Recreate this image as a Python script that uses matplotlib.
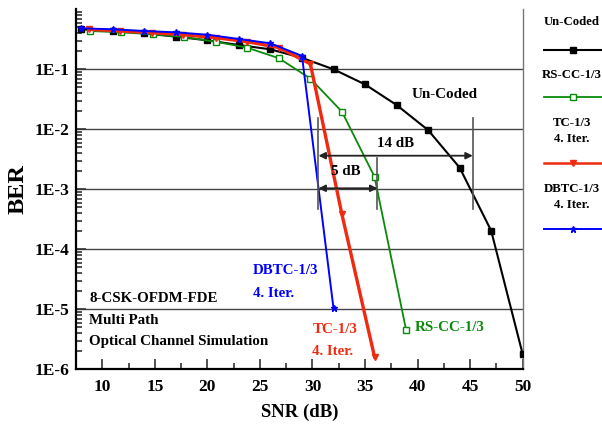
import math
import matplotlib
matplotlib.use("Agg")
import matplotlib.pyplot as plt
from matplotlib.lines import Line2D
from matplotlib.ticker import FixedLocator, FuncFormatter, LogLocator, MultipleLocator, NullFormatter

# ---- data ----
unc_snr = [8, 11, 14, 17, 20, 23, 26, 29, 32, 35, 38, 41, 44, 47, 50]
unc_ber = [0.464, 0.435, 0.398, 0.35, 0.304, 0.254, 0.215, 0.155, 0.1, 0.056, 0.0254, 0.0097, 0.0023, 2.04e-4, 1.78e-6]

rs_snr = [8.8, 11.8, 14.8, 17.8, 20.8, 23.8, 26.8, 29.8, 32.8, 35.9, 38.9]
rs_ber = [0.435, 0.413, 0.383, 0.345, 0.288, 0.229, 0.153, 0.07, 0.0197, 1.62e-3, 4.6e-6]

tc_snr = [8.7, 11.7, 14.7, 17.7, 20.8, 23.8, 26.8, 29.8, 32.8, 35.9]
tc_ber = [0.464, 0.435, 0.407, 0.377, 0.336, 0.288, 0.23, 0.123, 3.83e-4, 1.62e-6]

dbtc_snr = [8, 11, 14, 17, 20, 23, 26, 29, 32]
dbtc_ber = [0.482, 0.464, 0.435, 0.413, 0.377, 0.32, 0.271, 0.167, 1.04e-5]

series_names = ["Un-Coded", "RS-CC-1/3", "TC-1/3\n4. Iter.", "DBTC-1/3\n4. Iter."]
x_ticks = [10, 15, 20, 25, 30, 35, 40, 45, 50]
y_ticks = [1e-6, 1e-5, 1e-4, 1e-3, 1e-2, 1e-1]

# ---- style ----
FONT = "Liberation Serif"
plt.rcParams["font.family"] = [FONT, "DejaVu Serif"]
plt.rcParams["font.weight"] = "bold"

c_blk = "#000000"
c_grn = "#0a8a0a"
c_red = "#f02a10"
c_blu = "#0000ff"

styles = [
    dict(color=c_blk, lw=1.5, marker="s", ms=5, mfc=c_blk, mec=c_blk),
    dict(color=c_grn, lw=1.3, marker="s", ms=5, mfc="white", mec=c_grn, mew=1.0),
    dict(color=c_red, lw=2.4, marker="v", ms=4.5, mfc=c_red, mec=c_red),
    dict(color=c_blu, lw=1.4, marker="*", ms=5, mfc=c_blu, mec=c_blu),
]

W, H = 602, 426
fig = plt.figure(figsize=(W / 100, H / 100), dpi=100)
ax = fig.add_axes([76 / W, 1 - 369.3 / H, (522.7 - 76) / W, 360 / H])

def py(pix):
    """BER value at a given pixel row of the reference axes."""
    return 10 ** (-(pix - 9.3) / 60)

data = [(unc_snr, unc_ber), (rs_snr, rs_ber), (tc_snr, tc_ber), (dbtc_snr, dbtc_ber)]
for (xs, ys), st in zip(data, styles):
    ax.plot(xs, ys, zorder=3, **st)

ax.set_yscale("log")
ax.set_xlim(7.5, 50)
ax.set_ylim(1e-6, 1)

ax.yaxis.set_major_locator(FixedLocator(y_ticks))
ax.yaxis.set_major_formatter(FuncFormatter(lambda v, p: "1E%d" % round(math.log10(v))))
ax.yaxis.set_minor_locator(LogLocator(base=10, subs=range(2, 10)))
ax.yaxis.set_minor_formatter(NullFormatter())
ax.xaxis.set_major_locator(FixedLocator(x_ticks))
ax.xaxis.set_minor_locator(MultipleLocator(2.5))

ax.tick_params(which="both", direction="in", labelsize=12.5, width=1.2, color="#333333")
ax.tick_params(which="major", length=7)
ax.tick_params(which="minor", length=4)
ax.tick_params(axis="y", pad=5)
ax.tick_params(axis="x", pad=7)
for lab in ax.get_xticklabels() + ax.get_yticklabels():
    lab.set_fontweight("bold")

ax.grid(True, which="major", axis="y", color="#444444", lw=1.0, zorder=0)
ax.spines["top"].set_visible(False)
ax.spines["left"].set_linewidth(1.6)
ax.spines["bottom"].set_linewidth(1.6)
ax.spines["right"].set_color("#777777")
ax.spines["right"].set_linewidth(1.0)

ax.set_ylabel("BER", fontsize=17.5, fontweight="bold")
ax.yaxis.set_label_coords((29 - 76) / 446.7, 0.5)
ax.set_xlabel("SNR (dB)", fontsize=13.5, fontweight="bold", labelpad=6)

# ---- annotations ----
tk = dict(fontsize=10.8, fontweight="bold")
ax.text(42.6, py(94.3), "Un-Coded", ha="center", va="center", color=c_blk, fontsize=10.8, fontweight="bold")
ax.text(24.3, py(270), "DBTC-1/3", ha="left", va="center", color=c_blu, **tk)
ax.text(24.3, py(293.3), "4. Iter.", ha="left", va="center", color=c_blu, **tk)
ax.text(30.0, py(329.3), "TC-1/3", ha="left", va="center", color=c_red, **tk)
ax.text(30.0, py(351.7), "4. Iter.", ha="left", va="center", color=c_red, **tk)
ax.text(39.7, py(327.7), "RS-CC-1/3", ha="left", va="center", color=c_grn, **tk)

tl = dict(fontsize=10.8, fontweight="bold", color=c_blk, ha="left", va="center")
ax.text(8.75, py(298.3), "8-CSK-OFDM-FDE", **tl)
ax.text(8.75, py(320), "Multi Path", **tl)
ax.text(8.75, py(341.7), "Optical Channel Simulation", **tl)

# dB gap markers
vl = dict(color="#555555", lw=1.2, zorder=4)
ax.plot([30.57, 30.57], [py(118), py(209)], **vl)
ax.plot([36.18, 36.18], [py(158), py(209)], **vl)
ax.plot([45.25, 45.25], [py(118), py(209)], **vl)
arr = dict(arrowstyle="<|-|>", color="#222222", lw=1.3, mutation_scale=10, shrinkA=0, shrinkB=0)
ax.annotate("", xy=(30.57, py(155.7)), xytext=(45.25, py(155.7)), arrowprops=arr, zorder=5)
ax.annotate("", xy=(30.57, py(188.3)), xytext=(36.18, py(188.3)), arrowprops=arr, zorder=5)
ax.text(37.9, py(143.3), "14 dB", ha="center", va="center", fontsize=10.8, fontweight="bold")
ax.text(33.2, py(171.7), "5 dB", ha="center", va="center", fontsize=10.8, fontweight="bold")

# ---- legend (manual, outside right) ----
leg_text_y = [22, 75, 131, 197]
leg_line_y = [50, 97, 163, 229]
for name, st, ty, ly in zip(series_names, styles, leg_text_y, leg_line_y):
    fig.text(572 / W, 1 - ty / H, name, ha="center", va="center", fontsize=9.2,
             fontweight="bold", linespacing=1.5)
    ln = Line2D([544 / W, 602 / W], [1 - ly / H, 1 - ly / H], transform=fig.transFigure,
                color=st["color"], lw=min(st["lw"], 1.8))
    mk = Line2D([573 / W], [1 - ly / H], transform=fig.transFigure, ls="none",
                marker=st["marker"], ms=st["ms"], mfc=st["mfc"], mec=st["mec"])
    fig.add_artist(ln)
    fig.add_artist(mk)

fig.savefig("out.png", dpi=100)
